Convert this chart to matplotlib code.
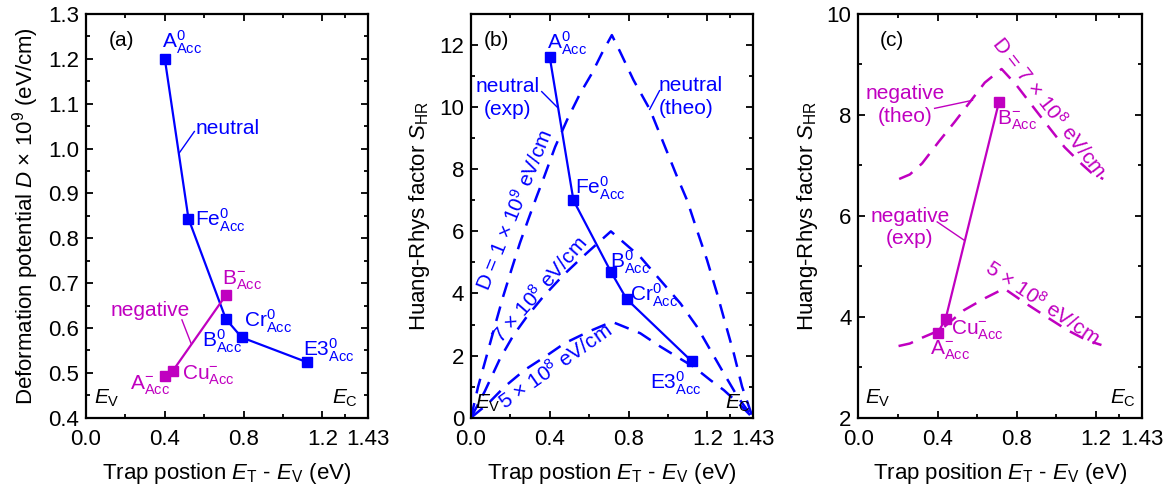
import numpy as np
import matplotlib
matplotlib.use('Agg')
import matplotlib.pyplot as plt

plt.rcParams['font.family'] = ['Liberation Sans', 'DejaVu Sans']
plt.rcParams['mathtext.fontset'] = 'custom'
plt.rcParams['mathtext.rm'] = 'Liberation Sans'
plt.rcParams['mathtext.it'] = 'Liberation Sans:italic'
plt.rcParams['mathtext.bf'] = 'Liberation Sans:bold'

#----------------- datos leidos ------------------------------------
blue = '#0000ff'
mag = '#c000c0'

x_neu = [0.40, 0.52, 0.71, 0.79, 1.12]
D_neu = [1.20, 0.844, 0.62, 0.579, 0.524]
S_neu = [11.6, 7.0, 4.70, 3.82, 1.82]

x_neg = [0.40, 0.44, 0.71]
D_neg = [0.493, 0.504, 0.673]
S_neg = [3.68, 3.95, 8.26]

# curvas teoricas (b), neutral
th1_x = [0.0, 0.036, 0.078, 0.12, 0.163, 0.205, 0.248, 0.29, 0.332, 0.368, 0.427, 0.487, 0.554,
         0.614, 0.664, 0.715, 0.757, 0.825, 0.91, 0.978, 1.046, 1.097, 1.147, 1.198, 1.249,
         1.291, 1.334, 1.376, 1.43]
th1_y = [0.0, 1.0, 1.96, 2.93, 3.9, 4.76, 5.62, 6.37, 7.1, 7.7, 8.72, 9.58, 10.44,
         11.09, 11.73, 12.32, 11.78, 10.87, 9.9, 8.83, 7.76, 7.0, 6.04, 5.08, 4.0,
         3.04, 2.07, 1.0, 0.0]
th7_x = [0.0, 0.07, 0.147, 0.215, 0.283, 0.367, 0.47, 0.57, 0.71, 0.859, 0.961, 1.063,
         1.147, 1.215, 1.283, 1.351, 1.43]
th7_y = [0.0, 0.85, 1.9, 2.65, 3.25, 3.9, 4.6, 5.2, 6.0, 5.18, 4.43, 3.68,
         2.93, 2.18, 1.43, 0.7, 0.0]
th5_x = [0.0, 0.086, 0.171, 0.273, 0.375, 0.476, 0.60, 0.715, 0.859, 0.961, 1.046, 1.13,
         1.215, 1.283, 1.368, 1.43]
th5_y = [0.0, 0.45, 1.0, 1.54, 1.96, 2.4, 2.78, 3.09, 2.72, 2.29, 1.96, 1.64,
         1.21, 0.89, 0.4, 0.0]

# curvas teoricas (c), negative
c7_x = [0.206, 0.26, 0.322, 0.406, 0.486, 0.562, 0.638, 0.723, 0.796, 0.884, 0.965, 1.041,
        1.129, 1.18, 1.236]
c7_y = [6.73, 6.82, 7.04, 7.47, 7.86, 8.25, 8.64, 8.91, 8.6, 8.15, 7.74, 7.36,
        7.02, 6.84, 6.73]
c5_x = [0.203, 0.26, 0.325, 0.415, 0.533, 0.64, 0.736, 0.843, 0.957, 1.053, 1.155, 1.227]
c5_y = [3.42, 3.47, 3.59, 3.74, 4.13, 4.37, 4.56, 4.27, 3.98, 3.74, 3.53, 3.44]

xt = [0.0, 0.4, 0.8, 1.2, 1.43]
xt_lab = ['0.0', '0.4', '0.8', '1.2', '1.43']
xt_min = [0.2, 0.6, 1.0, 1.315]

FS = 15
TFS = 16
LFS = 16
dash = (0, (6, 4))


def acc(name, sup):
    return name + r'$^{\mathrm{' + sup + r'}}_{\mathrm{Acc}}$'


def style(ax, xlab):
    ax.set_xlim(0, 1.43)
    ax.set_xticks(xt)
    ax.set_xticklabels(xt_lab)
    ax.set_xticks(xt_min, minor=True)
    ax.tick_params(which='both', direction='in', top=True, right=True, labelsize=TFS, width=1.3)
    ax.tick_params(which='major', length=5, pad=5)
    ax.tick_params(axis='x', which='major', pad=8)
    ax.tick_params(which='minor', length=3)
    for s in ax.spines.values():
        s.set_linewidth(1.6)
    ax.set_xlabel(xlab, fontsize=LFS, labelpad=8)


fig = plt.figure(figsize=(11.67, 4.91), dpi=100)
axa = fig.add_axes([0.0737, 0.1493, 0.2414, 0.8222])
axb = fig.add_axes([0.4036, 0.1493, 0.2414, 0.8222])
axc = fig.add_axes([0.7355, 0.1493, 0.2428, 0.8222])

#------------------- (a) -------------------------------------------
ax = axa
ax.plot(x_neu, D_neu, '-s', color=blue, lw=1.6, ms=7.5)
ax.plot(x_neg, D_neg, '-s', color=mag, lw=1.6, ms=7.5)
style(ax, r'Trap postion $E_\mathrm{T}$ - $E_\mathrm{V}$ (eV)')
ax.set_ylim(0.4, 1.3)
ax.set_yticks(np.arange(0.4, 1.31, 0.1))
ax.set_yticklabels(['%.1f' % v for v in np.arange(0.4, 1.31, 0.1)])
ax.set_yticks(np.arange(0.45, 1.3, 0.1), minor=True)
ax.set_ylabel(r'Deformation potential $D$ × 10$^9$ (eV/cm)', fontsize=LFS, labelpad=5)

ax.text(0.115, 1.242, '(a)', fontsize=FS, va='center')
ax.text(0.385, 1.238, acc('A', '0'), fontsize=FS, color=blue, va='center')
ax.text(0.555, 1.045, 'neutral', fontsize=FS, color=blue, va='center')
ax.plot([0.473, 0.55], [0.99, 1.038], color=blue, lw=1)
ax.text(0.555, 0.841, acc('Fe', '0'), fontsize=FS, color=blue, va='center')
ax.text(0.69, 0.707, acc('B', '-'), fontsize=FS, color=mag, va='center')
ax.text(0.124, 0.64, 'negative', fontsize=FS, color=mag, va='center')
ax.plot([0.487, 0.533], [0.618, 0.566], color=mag, lw=1)
ax.text(0.80, 0.614, acc('Cr', '0'), fontsize=FS, color=blue, va='center')
ax.text(0.59, 0.57, acc('B', '0'), fontsize=FS, color=blue, va='center')
ax.text(1.10, 0.551, acc('E3', '0'), fontsize=FS, color=blue, va='center')
ax.text(0.485, 0.495, acc('Cu', '-'), fontsize=FS, color=mag, va='center')
ax.text(0.225, 0.473, acc('A', '-'), fontsize=FS, color=mag, va='center')
ax.text(0.04, 0.443, r'$E_\mathrm{V}$', fontsize=FS, va='center')
ax.text(1.25, 0.443, r'$E_\mathrm{C}$', fontsize=FS, va='center')

#------------------- (b) -------------------------------------------
ax = axb
ax.plot(th1_x, th1_y, color=blue, lw=1.8, ls=dash)
ax.plot(th7_x, th7_y, color=blue, lw=1.8, ls=dash)
ax.plot(th5_x, th5_y, color=blue, lw=1.8, ls=dash)
ax.plot(x_neu, S_neu, '-s', color=blue, lw=1.6, ms=7.5)
style(ax, r'Trap postion $E_\mathrm{T}$ - $E_\mathrm{V}$ (eV)')
ax.set_ylim(0, 13)
ax.set_yticks(range(0, 13, 2))
ax.set_yticks(range(1, 14, 2), minor=True)
ax.set_ylabel(r'Huang-Rhys factor $S_\mathrm{HR}$', fontsize=LFS, labelpad=5)

ax.text(0.063, 12.16, '(b)', fontsize=FS, va='center')
ax.text(0.385, 12.05, acc('A', '0'), fontsize=FS, color=blue, va='center')
ax.text(0.185, 10.3, 'neutral\n(exp)', fontsize=FS, color=blue, va='center', ha='center',
        linespacing=1.25)
ax.plot([0.359, 0.436], [10.5, 10.01], color=blue, lw=1)
ax.text(0.952, 10.33, 'neutral\n(theo)', fontsize=FS, color=blue, va='center', ha='left',
        linespacing=1.25)
ax.plot([0.907, 0.957], [9.93, 10.53], color=blue, lw=1)
ax.text(0.224, 6.69, r'D = 1 × 10$^9$ eV/cm', fontsize=FS, color=blue, rotation=68,
        ha='center', va='center', rotation_mode='anchor')
ax.text(0.351, 4.11, r'7 × 10$^8$ eV/cm', fontsize=FS, color=blue, rotation=49,
        ha='center', va='center', rotation_mode='anchor')
ax.text(0.43, 1.64, r'5 × 10$^8$ eV/cm', fontsize=FS, color=blue, rotation=35,
        ha='center', va='center', rotation_mode='anchor')
ax.text(0.529, 7.38, acc('Fe', '0'), fontsize=FS, color=blue, va='center')
ax.text(0.707, 5.02, acc('B', '0'), fontsize=FS, color=blue, va='center')
ax.text(0.808, 3.95, acc('Cr', '0'), fontsize=FS, color=blue, va='center')
ax.text(0.91, 1.11, acc('E3', '0'), fontsize=FS, color=blue, va='center')
ax.text(0.02, 0.46, r'$E_\mathrm{V}$', fontsize=FS, va='center')
ax.text(1.29, 0.46, r'$E_\mathrm{C}$', fontsize=FS, va='center')

#------------------- (c) -------------------------------------------
ax = axc
ax.plot(c7_x, c7_y, color=mag, lw=1.8, ls=dash)
ax.plot(c5_x, c5_y, color=mag, lw=1.8, ls=dash)
ax.plot(x_neg, S_neg, '-s', color=mag, lw=1.6, ms=7.5)
style(ax, r'Trap position $E_\mathrm{T}$ - $E_\mathrm{V}$ (eV)')
ax.set_ylim(2, 10)
ax.set_yticks(range(2, 11, 2))
ax.set_yticks(range(3, 10, 2), minor=True)
ax.set_ylabel(r'Huang-Rhys factor $S_\mathrm{HR}$', fontsize=LFS, labelpad=5)

ax.text(0.11, 9.48, '(c)', fontsize=FS, va='center')
ax.text(0.237, 8.2, 'negative\n(theo)', fontsize=FS, color=mag, va='center', ha='center',
        linespacing=1.25)
ax.plot([0.385, 0.576], [8.13, 8.29], color=mag, lw=1)
ax.text(0.70, 7.9, acc('B', '-'), fontsize=FS, color=mag, va='center')
ax.text(0.965, 8.16, r'D = 7 × 10$^8$ eV/cm', fontsize=FS, color=mag, rotation=-52,
        ha='center', va='center', rotation_mode='anchor')
ax.text(0.26, 5.77, 'negative\n(exp)', fontsize=FS, color=mag, va='center', ha='center',
        linespacing=1.25)
ax.plot([0.398, 0.533], [5.88, 5.52], color=mag, lw=1)
ax.text(0.931, 4.27, r'5 × 10$^8$ eV/cm', fontsize=FS, color=mag, rotation=-34,
        ha='center', va='center', rotation_mode='anchor')
ax.text(0.47, 3.74, acc('Cu', '-'), fontsize=FS, color=mag, va='center')
ax.text(0.36, 3.34, acc('A', '-'), fontsize=FS, color=mag, va='center')
ax.text(0.034, 2.38, r'$E_\mathrm{V}$', fontsize=FS, va='center')
ax.text(1.27, 2.38, r'$E_\mathrm{C}$', fontsize=FS, va='center')

plt.savefig('out.png', dpi=100)
